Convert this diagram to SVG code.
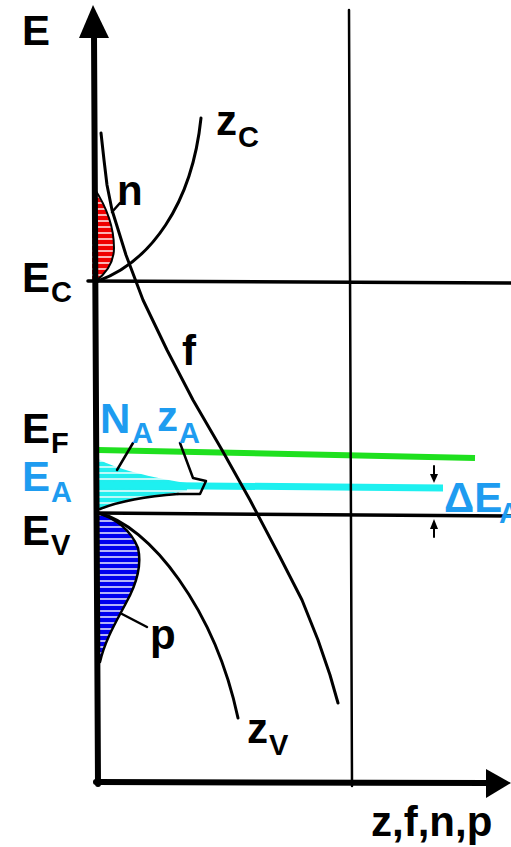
<svg xmlns="http://www.w3.org/2000/svg" width="511" height="847" viewBox="0 0 511 847">
<style>
.t{font-family:"Liberation Sans",Arial,sans-serif;font-weight:bold;font-size:42px;fill:#000}
.s{font-size:29px}
.b{fill:#1e9cf0}
.ln{stroke:#000;fill:none;stroke-linecap:round;stroke-linejoin:round}
</style>
<defs>
<pattern id="pr" width="10" height="6" patternUnits="userSpaceOnUse"><rect width="10" height="6" fill="#f00000"/><rect y="4.3" width="10" height="1.4" fill="#fff"/></pattern>
<pattern id="pb" width="10" height="6" patternUnits="userSpaceOnUse"><rect width="10" height="6" fill="#0000ee"/><rect y="4.3" width="10" height="1.4" fill="#fff"/></pattern>
<pattern id="pc" width="10" height="6" patternUnits="userSpaceOnUse"><rect width="10" height="6" fill="#22eeee"/><rect y="4.3" width="10" height="1.4" fill="#fff"/></pattern>
</defs>
<rect width="511" height="847" fill="#fff"/>

<g id="distributions">
<path id="n-area" d="M92,188 C104,203 114,225 114,248 C114,263 105,274 96,281 L92,281 Z" fill="url(#pr)"/>
<path class="ln" stroke-width="2" d="M93,166 L94,188 C104,203 114,225 114,248 C114,263 105,274 96,281"/>
<path id="p-area" d="M97,513 C115,518 131,530 138,548 C142,565 136,585 126,603 C116,622 105,640 100,660 L97,660 Z" fill="url(#pb)"/>
<path class="ln" stroke-width="2.5" d="M98,513 C115,518 131,530 138,548 C142,565 136,585 126,603 C116,622 105,640 100,662"/>
<path id="NA-area" d="M96,458 C110,466 140,476 187,483 L187,491 C160,495 120,500 100,510 L96,510 Z" fill="url(#pc)"/>
<path class="ln" stroke-width="2.5" d="M100,509 C120,501 150,496 178,494"/>
</g>

<g id="levels">
<line class="ln" x1="88" y1="281" x2="511" y2="283" stroke-width="3.5"/>
<line class="ln" x1="96" y1="513" x2="511" y2="516" stroke-width="3.5"/>
<line x1="98" y1="450" x2="475" y2="458" stroke="#1fe01f" stroke-width="6"/>
<line x1="95" y1="485" x2="443" y2="488" stroke="#1ef0f0" stroke-width="7"/>
<line class="ln" x1="349" y1="10" x2="352" y2="786" stroke-width="2.5"/>
</g>

<g id="axes">
<line class="ln" x1="94" y1="34" x2="98" y2="784" stroke-width="6"/>
<polygon points="93,5 79,38 109,38" fill="#000"/>
<line class="ln" x1="96" y1="782" x2="488" y2="783" stroke-width="6"/>
<polygon points="486,769 511,783 486,798" fill="#000"/>
</g>

<g id="connectors">
<path id="zC-curve" class="ln" stroke-width="3" d="M98,281 C150,262 192,205 201,118"/>
<polyline id="f-curve" class="ln" stroke-width="3" points="101,133 104,160 107,185 112,210 126,255 143,300 167,350 193,400 222,450 250,500 280,557 302,600 318,640 330,675 338,703"/>
<path id="zV-curve" class="ln" stroke-width="3" d="M98,513 C150,525 215,610 238,718"/>
<line class="ln" x1="112" y1="212" x2="120" y2="203" stroke-width="2.5"/>
<line class="ln" x1="122" y1="614" x2="147" y2="627" stroke-width="2.5"/>
<line class="ln" x1="133" y1="443" x2="117" y2="470" stroke-width="2.5"/>
<path id="zA" class="ln" stroke-width="2.5" d="M180,443 L193,478 L206,481 L200,494 L178,494"/>
<line class="ln" x1="434" y1="466" x2="434" y2="476" stroke-width="2"/>
<polygon points="430,474 438,474 434,483" fill="#000"/>
<line class="ln" x1="434" y1="527" x2="434" y2="537" stroke-width="2"/>
<polygon points="430,529 438,529 434,519" fill="#000"/>
</g>

<g id="labels">
<text class="t" x="22" y="45">E</text>
<text class="t" x="22" y="292">E<tspan class="s" x="51" y="302">C</tspan></text>
<text class="t" x="22" y="443">E<tspan class="s" x="51" y="453">F</tspan></text>
<text class="t b" x="22" y="491">E<tspan class="s" x="51" y="502">A</tspan></text>
<text class="t" x="22" y="545">E<tspan class="s" x="51" y="555">V</tspan></text>
<text class="t b" x="100" y="433">N<tspan class="s" x="132" y="443">A</tspan></text>
<text class="t b" x="157" y="431">z<tspan class="s" x="179" y="443">A</tspan></text>
<text class="t" x="216" y="135">z<tspan class="s" x="238" y="147">C</tspan></text>
<text class="t" x="117" y="205">n</text>
<text class="t" x="182" y="365">f</text>
<text class="t" x="150" y="649">p</text>
<text class="t" x="247" y="743">z<tspan class="s" x="269" y="755">V</tspan></text>
<text class="t" x="371" y="836">z,f,n,p</text>
<text class="t b" x="444" y="512">ΔE<tspan class="s" x="499" y="523">A</tspan></text>
</g>
</svg>
